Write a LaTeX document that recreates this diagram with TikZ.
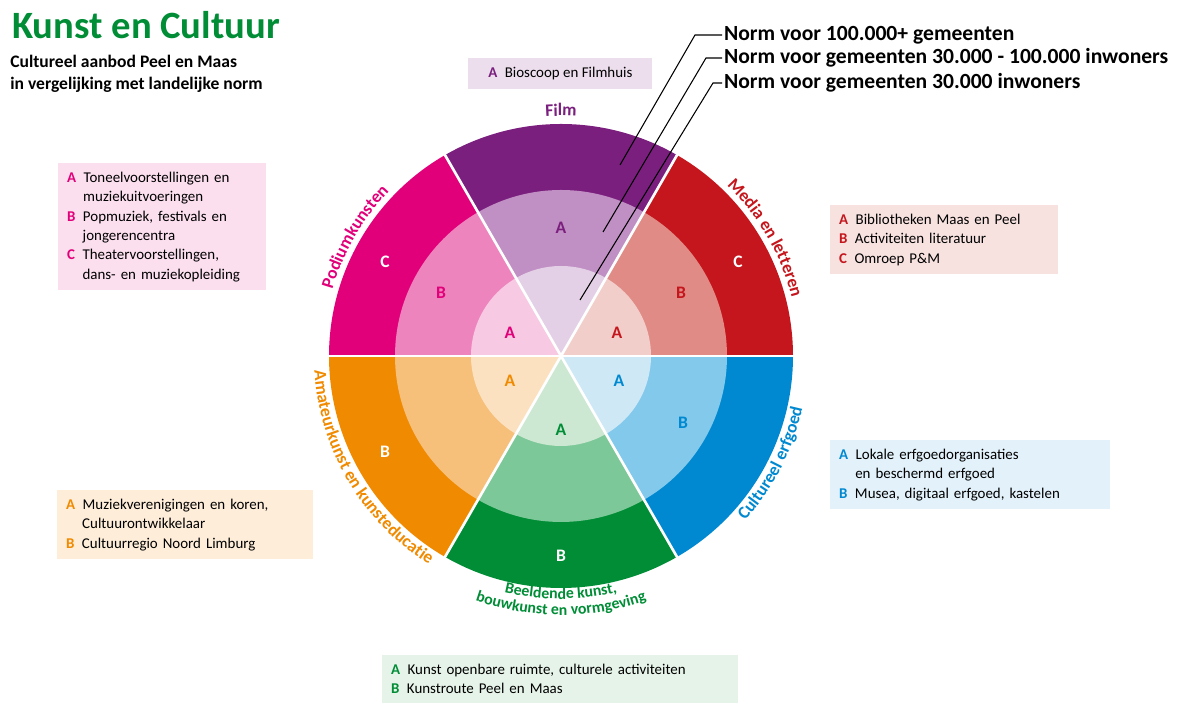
\documentclass[tikz,border=0pt]{standalone}
\usepackage{fontspec}
\setmainfont{Carlito}
\usetikzlibrary{decorations.text}
\definecolor{filmA}{HTML}{7B1F7E}\definecolor{filmB}{HTML}{C08FC3}\definecolor{filmC}{HTML}{E4D0E6}
\definecolor{mediaA}{HTML}{C4161C}\definecolor{mediaB}{HTML}{E08B86}\definecolor{mediaC}{HTML}{F2CECB}
\definecolor{podA}{HTML}{E2007A}\definecolor{podB}{HTML}{EE84BE}\definecolor{podC}{HTML}{F8C9E2}
\definecolor{amaA}{HTML}{F08A00}\definecolor{amaB}{HTML}{F6C07A}\definecolor{amaC}{HTML}{FBE1C0}
\definecolor{grA}{HTML}{008D36}\definecolor{grB}{HTML}{7DC898}\definecolor{grC}{HTML}{CCE8D3}
\definecolor{blA}{HTML}{0089D0}\definecolor{blB}{HTML}{82C9EC}\definecolor{blC}{HTML}{CFE8F6}
\newcommand{\sect}[4]{\fill[#4] (C) -- ++(#1:#3) arc[start angle=#1,end angle=#2,radius=#3] -- cycle;}
\tikzset{
  legend/.style={anchor=north west, inner sep=5pt, align=left, font=\fontsize{8.5}{11}\selectfont},
  norm/.style={anchor=west, font=\fontsize{12.3}{14}\selectfont\bfseries, inner sep=1pt},
  ring/.style={font=\fontsize{10}{12}\selectfont\bfseries},
  ptr/.style={draw, line width=0.6pt},
  curved/.style={decorate, decoration={text along path, text align=center, text={#1}}}
}
\begin{document}
\begin{tikzpicture}[x=0.02cm, y=0.02cm]
\useasboundingbox (0,0) rectangle (1193,715);
\coordinate (C) at (561,359);
% sectors
\sect{60}{120}{232}{filmA}\sect{60}{120}{166}{filmB}\sect{60}{120}{90}{filmC}
\sect{0}{60}{232}{mediaA}\sect{0}{60}{166}{mediaB}\sect{0}{60}{90}{mediaC}
\sect{120}{180}{232}{podA}\sect{120}{180}{166}{podB}\sect{120}{180}{90}{podC}
\sect{180}{240}{232}{amaA}\sect{180}{240}{166}{amaB}\sect{180}{240}{90}{amaC}
\sect{240}{300}{232}{grA}\sect{240}{300}{166}{grB}\sect{240}{300}{90}{grC}
\sect{300}{360}{232}{blA}\sect{300}{360}{166}{blB}\sect{300}{360}{90}{blC}
\foreach \a in {0,60,...,300} \draw[white, line width=1.5pt] (C) -- ++(\a:233);
% ring letters
\node[ring, text=filmA] (filmLA) at (561,487) {A};
\node[ring, text=mediaA] (medLA) at (617,382) {A};
\node[ring, text=mediaA] (medLB) at (681,422) {B};
\node[ring, text=white] (medLC) at (738,453) {C};
\node[ring, text=podA] (podLA) at (510,382) {A};
\node[ring, text=podA] (podLB) at (441,422) {B};
\node[ring, text=white] (podLC) at (385,453) {C};
\node[ring, text=amaA] (amaLA) at (510,334) {A};
\node[ring, text=white] (amaLB) at (385,263) {B};
\node[ring, text=grA] (grLA) at (561,285) {A};
\node[ring, text=white] (grLB) at (561,159) {B};
\node[ring, text=blA] (blLA) at (619,334) {A};
\node[ring, text=blA] (blLB) at (683,292) {B};
% curved sector names
\path[curved={|\fontsize{10}{12}\selectfont\bfseries\color{filmA}|Film}] (C) ++(115:240) arc[start angle=115,end angle=65,radius=240];
\path[curved={|\fontsize{10}{12}\selectfont\bfseries\color{mediaA}|Media en letteren}] (C) ++(60:238) arc[start angle=60,end angle=0,radius=238];
\path[curved={|\fontsize{10}{12}\selectfont\bfseries\color{podA}|Podiumkunsten}] (C) ++(178:238) arc[start angle=178,end angle=122,radius=238];
\path[curved={|\fontsize{10}{12}\selectfont\bfseries\color{amaA}|Amateurkunst en kunsteducatie}] (C) ++(180:247) arc[start angle=180,end angle=241,radius=247];
\path[curved={|\fontsize{10}{12}\selectfont\bfseries\color{blA}|Cultureel erfgoed}] (C) ++(298:247) arc[start angle=298,end angle=368,radius=247];
\path[curved={|\fontsize{9}{11}\selectfont\bfseries\color{grA}|Beeldende kunst,}] (C) ++(250:243) arc[start angle=250,end angle=290,radius=243];
\path[curved={|\fontsize{9}{11}\selectfont\bfseries\color{grA}|bouwkunst en vormgeving}] (C) ++(245:259) arc[start angle=245,end angle=295,radius=259];
% title
\node[anchor=west, text=grA, font=\fontsize{22}{24}\selectfont\bfseries] (title) at (6,690) {Kunst en Cultuur};
\node[anchor=north west, align=left, font=\fontsize{10}{12.5}\selectfont\bfseries, inner sep=0pt] (subtitle) at (10,660) {Cultureel aanbod Peel en Maas\\in vergelijking met landelijke norm};
% norms
\node[norm] (n1) at (722,680) {Norm voor 100.000+ gemeenten};
\node[norm] (n2) at (722,657) {Norm voor gemeenten 30.000 - 100.000 inwoners};
\node[norm] (n3) at (722,632) {Norm voor gemeenten 30.000 inwoners};
\coordinate (p1) at (620,550);\coordinate (p2) at (603,483);\coordinate (p3) at (580,415);
\draw[ptr] (n1.west) -- ++(-27,0) -- (p1);
\draw[ptr] (n2.west) -- ++(-16,0) -- (p2);
\draw[ptr] (n3.west) -- ++(-9,0) -- (p3);
% legends
\node[legend, fill=filmC!70, minimum width=184*0.02cm] (legFilm) at (468,657) {\textcolor{filmA}{\textbf{A}}\enspace Bioscoop en Filmhuis};
\node[legend, fill=podC!60, text width=190*0.02cm] (legPod) at (58,552) {\textcolor{podA}{\textbf{A}}\enspace Toneelvoorstellingen en\\\phantom{A}\enspace muziekuitvoeringen\\\textcolor{podA}{\textbf{B}}\enspace Popmuziek, festivals en\\\phantom{B}\enspace jongerencentra\\\textcolor{podA}{\textbf{C}}\enspace Theatervoorstellingen,\\\phantom{C}\enspace dans- en muziekopleiding};
\node[legend, fill=mediaC!60, text width=210*0.02cm] (legMed) at (830,510) {\textcolor{mediaA}{\textbf{A}}\enspace Bibliotheken Maas en Peel\\\textcolor{mediaA}{\textbf{B}}\enspace Activiteiten literatuur\\\textcolor{mediaA}{\textbf{C}}\enspace Omroep P\&M};
\node[legend, fill=blC!60, text width=262*0.02cm] (legBl) at (830,275) {\textcolor{blA}{\textbf{A}}\enspace Lokale erfgoedorganisaties\\\phantom{A}\enspace en beschermd erfgoed\\\textcolor{blA}{\textbf{B}}\enspace Musea, digitaal erfgoed, kastelen};
\node[legend, fill=amaC!60, text width=238*0.02cm] (legAma) at (57,225) {\textcolor{amaA}{\textbf{A}}\enspace Muziekverenigingen en koren,\\\phantom{A}\enspace Cultuurontwikkelaar\\\textcolor{amaA}{\textbf{B}}\enspace Cultuurregio Noord Limburg};
\node[legend, fill=grC!50, text width=338*0.02cm] (legGr) at (382,60) {\textcolor{grA}{\textbf{A}}\enspace Kunst openbare ruimte, culturele activiteiten\\\textcolor{grA}{\textbf{B}}\enspace Kunstroute Peel en Maas};
\end{tikzpicture}
\end{document}
